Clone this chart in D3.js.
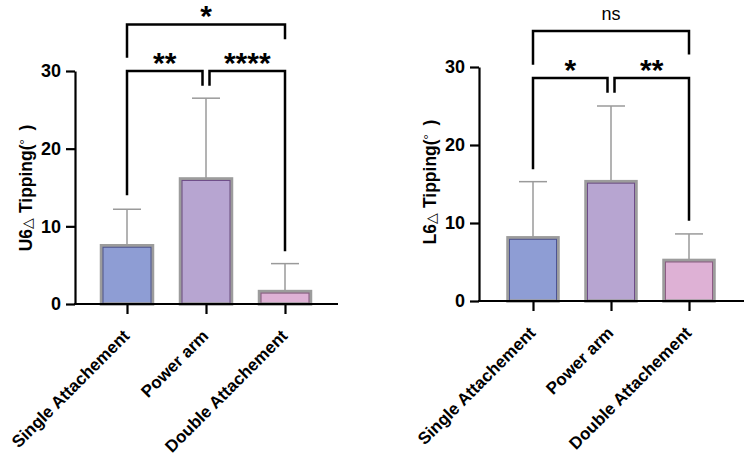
<!DOCTYPE html>
<html>
<head>
  <meta charset="utf-8">
  <title>Tipping</title>
  <style>
    body { margin: 0; background: #fff; }
    text { font-family: 'Liberation Sans', Arial, sans-serif; }
  </style>
</head>
<body>
  <div id="chart"></div>
  <script src="https://d3js.org/d3.v7.min.js"></script>
  <script>
    // data
    let groups = ['Single Attachement', 'Power arm', 'Double Attachement'];
    let u6Mean = [7.5, 16.1, 1.6];
    let u6Err = [4.7, 10.4, 3.6];
    let l6Mean = [8.1, 15.3, 5.2];
    let l6Err = [7.2, 9.7, 3.4];
    let yTicks = [0, 10, 20, 30];

    // significance brackets: [from, to, y level, left leg end, right leg end, label]
    let u6Sig = [
      [0, 2, 36.0, 31.7, 34.1, '*'],
      [0, 1, 30.0, 14.0, 28.1, '**'],
      [1, 2, 30.0, 28.1, 6.8, '****']
    ];
    let l6Sig = [
      [0, 2, 34.6, 30.3, 31.6, 'ns'],
      [0, 1, 28.6, 16.9, 26.7, '*'],
      [1, 2, 28.6, 26.7, 10.3, '**']
    ];

    let fills = ['#8e9dd4', '#b7a5d1', '#deb1d5'];
    let inner = ['#4d5492', '#6e4c88', '#8d5c84'];

    let svg = d3.select('#chart').append('svg')
      .attr('width', 744)
      .attr('height', 455);

    function translate(x, y) {
      return 'translate(' + x + ',' + y + ')';
    }

    function draw_panel(opt) {
      let g = svg.append('g');
      let x = d3.scalePoint().domain(groups).range(opt.xr);
      let y = d3.scaleLinear().domain([0, 30]).range(opt.yr);
      let bw = opt.bw;
      let rows = groups.map((k, i) => ({ k: k, i: i, m: opt.mean[i], e: opt.err[i] }));

      // error bars (behind bars)
      let eb = g.selectAll('.err').data(rows).enter().append('g').attr('class', 'err');
      eb.append('line')
        .attr('x1', d => x(d.k)).attr('x2', d => x(d.k))
        .attr('y1', d => y(d.m)).attr('y2', d => y(d.m + d.e))
        .attr('stroke', '#9a9a9a').attr('stroke-width', 1.5);
      eb.append('line')
        .attr('x1', d => x(d.k) - 14).attr('x2', d => x(d.k) + 14)
        .attr('y1', d => y(d.m + d.e)).attr('y2', d => y(d.m + d.e))
        .attr('stroke', '#9a9a9a').attr('stroke-width', 1.5);

      // bars: gray outer frame + darker inner edge
      g.selectAll('.bar').data(rows).enter().append('rect')
        .attr('class', 'bar')
        .attr('x', d => x(d.k) - bw / 2)
        .attr('y', d => y(d.m))
        .attr('width', bw)
        .attr('height', d => y(0) - y(d.m))
        .attr('fill', d => fills[d.i])
        .attr('stroke', '#9c9c9c')
        .attr('stroke-width', 3.5);
      g.selectAll('.barin').data(rows).enter().append('rect')
        .attr('class', 'barin')
        .attr('x', d => x(d.k) - bw / 2 + 1.5)
        .attr('y', d => y(d.m) + 1.5)
        .attr('width', bw - 3)
        .attr('height', d => Math.max(0, y(0) - y(d.m) - 1.5))
        .attr('fill', 'none')
        .attr('stroke', d => inner[d.i])
        .attr('stroke-width', 1);

      // y axis
      let ya = g.append('g')
        .attr('transform', translate(opt.ax, 0))
        .call(d3.axisLeft(y).tickValues(yTicks).tickSize(9).tickSizeOuter(0).tickPadding(5));
      ya.select('.domain').attr('stroke-width', 2.2);
      ya.selectAll('.tick line').attr('stroke-width', 2.2);
      ya.selectAll('.tick text')
        .attr('font-size', 18).attr('font-weight', 'bold').attr('fill', '#000')
        .style('font-family', "'Liberation Sans', Arial, sans-serif");

      // x axis
      g.append('line')
        .attr('x1', opt.ax - 1).attr('x2', opt.axEnd)
        .attr('y1', y(0)).attr('y2', y(0))
        .attr('stroke', '#000').attr('stroke-width', 2.2);
      let xa = g.append('g')
        .attr('transform', translate(0, y(0)))
        .call(d3.axisBottom(x).tickSize(10).tickSizeOuter(0));
      xa.select('.domain').remove();
      xa.selectAll('.tick line').attr('stroke-width', 2.2);
      xa.selectAll('.tick text')
        .attr('font-size', 17).attr('font-weight', 'bold').attr('fill', '#000')
        .style('font-family', "'Liberation Sans', Arial, sans-serif")
        .attr('text-anchor', 'end')
        .attr('dy', 0)
        .attr('y', 0)
        .attr('transform', 'translate(3,33) rotate(-45)');

      // y title
      let t = g.append('text')
        .attr('transform', translate(opt.titleX, opt.titleY) + ' rotate(-90)')
        .attr('text-anchor', 'middle')
        .attr('font-size', 17.5).attr('font-weight', 'bold').attr('fill', '#000');
      t.append('tspan').text(opt.title[0]);
      t.append('tspan').attr('font-weight', 'normal').attr('font-size', 14).text('\u25B3');
      t.append('tspan').text(' Tipping(');
      t.append('tspan').attr('font-weight', 'normal').attr('font-size', 13).attr('dy', -3).text('\u00B0');
      t.append('tspan').attr('dy', 3).text('\u2002)');

      // significance brackets
      opt.sig.forEach(function (s) {
        let xa0 = x(groups[s[0]]);
        let xa1 = x(groups[s[1]]);
        // brackets touching the middle bar stop short of its centre
        if (s[1] - s[0] == 1) {
          if (s[1] == 1) xa1 -= 3.5;
          if (s[0] == 1) xa0 += 3.5;
        }
        let path = d3.path();
        path.moveTo(xa0, y(s[3]));
        path.lineTo(xa0, y(s[2]));
        path.lineTo(xa1, y(s[2]));
        path.lineTo(xa1, y(s[4]));
        g.append('path')
          .attr('d', path.toString())
          .attr('fill', 'none')
          .attr('stroke', '#000')
          .attr('stroke-width', 2.5);
        let isNs = s[5] == 'ns';
        g.append('text')
          .attr('x', (xa0 + xa1) / 2)
          .attr('y', isNs ? y(s[2]) - 11 : y(s[2]) + 2)
          .attr('text-anchor', 'middle')
          .attr('font-size', isNs ? 18 : 30)
          .attr('font-weight', isNs ? 'normal' : 'bold')
          .attr('fill', '#000')
          .text(s[5]);
      });
    }

    draw_panel({
      mean: u6Mean, err: u6Err, sig: u6Sig,
      xr: [127, 285], yr: [304, 71], bw: 51,
      ax: 75, axEnd: 338,
      title: ['U6'], titleX: 32, titleY: 188
    });

    draw_panel({
      mean: l6Mean, err: l6Err, sig: l6Sig,
      xr: [533, 689], yr: [301, 67], bw: 50,
      ax: 479, axEnd: 744,
      title: ['L6'], titleX: 436, titleY: 182
    });
  </script>
</body>
</html>
